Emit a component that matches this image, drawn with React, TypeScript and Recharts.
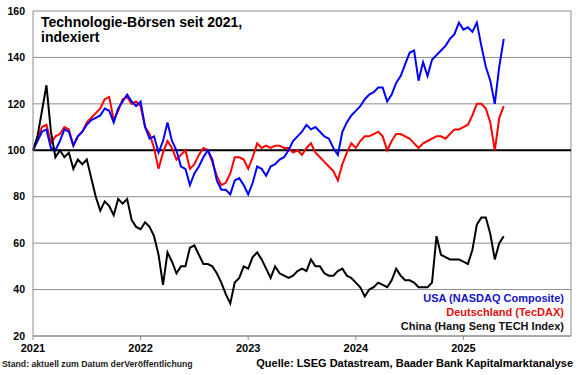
import React from 'react';
import { LineChart, Line, XAxis, YAxis, CartesianGrid, ReferenceLine } from 'recharts';

// half-month steps since Jan 2021, index-based positions
const nasdaq = [
  100, 104, 108, 109, 101, 100, 104, 109, 108, 102, 106, 108, 111, 113, 114, 115, 118, 117, 112, 118,
  121, 124, 121, 119, 121, 110, 105, 106, 99, 104, 112, 104, 100, 93, 92, 85, 90, 93, 97, 100,
  96, 87, 83, 83, 81, 87, 88, 85, 81, 86, 93, 92, 89, 93, 94, 96, 97, 100, 104, 106,
  108, 111, 109, 110, 108, 106, 105, 101, 98, 108, 112, 115, 117, 119, 122, 124, 125, 127, 127, 121,
  124, 129, 132, 137, 142, 143, 130, 138, 132, 139, 141, 143, 145, 148, 150, 155, 152, 153, 151, 155,
  145, 136, 130, 120, 136, 148,
];

const tecdax = [
  100, 105, 110, 111, 103, 106, 107, 110, 109, 102, 106, 108, 112, 114, 116, 118, 122, 123, 113, 117,
  122, 123, 120, 121, 119, 110, 107, 101, 92, 99, 104, 101, 96, 98, 100, 92, 94, 98, 101, 100,
  95, 89, 85, 86, 90, 97, 97, 96, 92, 97, 103, 101, 102, 101, 102, 102, 101, 101, 99, 100,
  98, 101, 103, 99, 97, 95, 93, 91, 87, 94, 99, 103, 101, 104, 106, 106, 107, 108, 106, 100,
  104, 107, 107, 106, 105, 103, 101, 103, 104, 105, 106, 106, 105, 107, 109, 109, 110, 111, 115, 120,
  120, 118, 112, 100, 114, 119,
];

const hstech = [
  100, 106, 117, 128, 108, 97, 100, 97, 99, 92, 96, 94, 96, 88, 80, 74, 78, 76, 72, 79,
  77, 79, 70, 67, 66, 69, 67, 63, 55, 42, 56, 52, 47, 50, 50, 58, 59, 55, 51, 51,
  50, 47, 43, 38, 34, 43, 45, 50, 49, 54, 56, 53, 49, 45, 50, 47, 46, 45, 46, 48,
  49, 48, 53, 50, 50, 47, 46, 46, 48, 49, 46, 45, 43, 41, 37, 40, 41, 43, 42, 41,
  44, 49, 46, 44, 44, 43, 41, 41, 41, 43, 63, 55, 54, 53, 53, 53, 52, 51, 57, 68,
  71, 71, 64, 53, 60, 63,
];

const yearTicks = [0, 12, 24, 36, 48];
const yearLabels = ['2021', '2022', '2023', '2024', '2025'];
const valueTicks = [20, 40, 60, 80, 100, 120, 140, 160];

const legendItems = [
  { label: 'USA (NASDAQ Composite)', color: '#1414c8' },
  { label: 'Deutschland (TecDAX)', color: '#e01010' },
  { label: 'China (Hang Seng TECH Index)', color: '#111' },
];

const data = nasdaq.map((v, i) => ({
  m: i / 2,
  usa: v,
  de: tecdax[i],
  cn: hstech[i],
}));

const FONT = '"Liberation Sans", Arial, sans-serif';
const GRID = '#8c8c8c';

export default function App() {
  return (
    <div style={{ position: 'absolute', left: 0, top: 0, width: 580, height: 375, background: '#fff', fontFamily: FONT }}>
      <LineChart width={580} height={375} data={data} margin={{ top: 11, right: 9, bottom: 19, left: 0 }}>
        <CartesianGrid vertical={false} stroke={GRID} />
        <XAxis
          dataKey="m"
          type="number"
          domain={[0, 60]}
          ticks={yearTicks}
          interval={0}
          tickFormatter={(v) => yearLabels[yearTicks.indexOf(v)] ?? ''}
          height={20}
          tickSize={4}
          tickMargin={4}
          stroke={GRID}
          tick={{ fill: '#000', fontSize: 11, fontWeight: 700, fontFamily: FONT }}
        />
        <YAxis
          domain={[20, 160]}
          ticks={valueTicks}
          interval={0}
          width={33}
          tickLine={false}
          tickSize={4}
          tickMargin={4}
          stroke={GRID}
          tick={{ fill: '#000', fontSize: 10.5, fontWeight: 700, fontFamily: FONT }}
        />
        <ReferenceLine x={60} stroke={GRID} />
        <ReferenceLine y={100} stroke="#000" strokeWidth={2} />
        <Line dataKey="de" stroke="#ff0000" strokeWidth={2} dot={false} isAnimationActive={false} />
        <Line dataKey="usa" stroke="#0000ff" strokeWidth={2} dot={false} isAnimationActive={false} />
        <Line dataKey="cn" stroke="#000" strokeWidth={2} dot={false} isAnimationActive={false} />
      </LineChart>

      <svg width={580} height={375} style={{ position: 'absolute', left: 0, top: 0, pointerEvents: 'none' }}>
        <g fontFamily={FONT} fontWeight={700}>
          <text x={41} y={26.5} fontSize={14} fill="#000">Technologie-Börsen seit 2021,</text>
          <text x={41} y={41.5} fontSize={14} fill="#000">indexiert</text>
          {legendItems.map((item, i) => (
            <text key={item.label} x={564} y={302 + i * 14} fontSize={11} textAnchor="end" fill={item.color}>
              {item.label}
            </text>
          ))}
          <text x={2} y={367} fontSize={8.7} fill="#222">Stand: aktuell zum Datum derVeröffentlichung</text>
          <text x={573} y={367} fontSize={11} textAnchor="end" fill="#000">Quelle: LSEG Datastream, Baader Bank Kapitalmarktanalyse</text>
        </g>
      </svg>
    </div>
  );
}
